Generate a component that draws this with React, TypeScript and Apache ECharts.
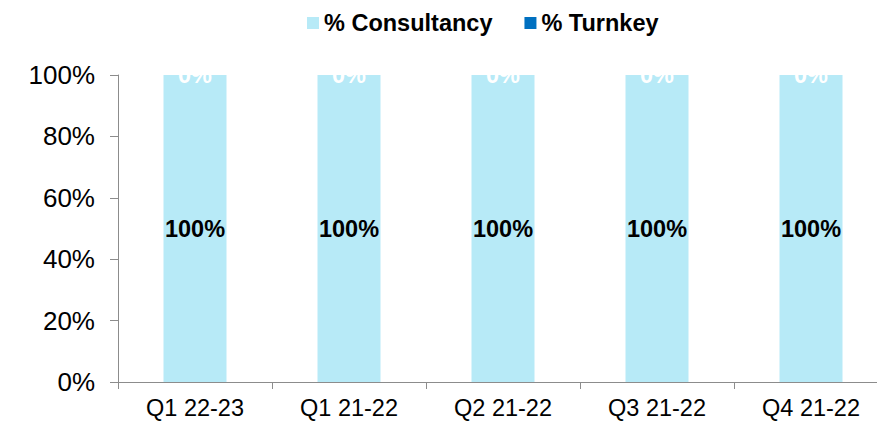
import React, { useEffect, useRef } from "react";
import * as echarts from "echarts";

const categories = ["Q1 22-23", "Q1 21-22", "Q2 21-22", "Q3 21-22", "Q4 21-22"];
const consultancy = [100, 100, 100, 100, 100];
const turnkey = [0, 0, 0, 0, 0];
const yTicks = [0, 20, 40, 60, 80, 100];

export default function App() {
  const ref = useRef<HTMLDivElement>(null);
  useEffect(() => {
    document.body.style.margin = "0";
    const chart = echarts.init(ref.current!, null, { renderer: "svg" });
    const font = "Arial, 'Liberation Sans', sans-serif";
    chart.setOption({
      animation: false,
      textStyle: { fontFamily: font },
      legend: {
        top: 6,
        left: 302,
        icon: "rect",
        itemWidth: 12,
        itemHeight: 12,
        itemGap: 32,
        textStyle: { fontFamily: font, fontSize: 23.5, fontWeight: "bold", color: "#000" },
        data: ["% Consultancy", "% Turnkey"],
      },
      grid: {
        left: 118,
        top: 75,
        height: 307,
        width: 770,
        containLabel: false,
        outerBoundsMode: "none",
      },
      xAxis: {
        type: "category",
        data: categories,
        axisLine: { lineStyle: { color: "#8c8c8c", width: 1 } },
        axisTick: { show: true, length: 7, lineStyle: { color: "#8c8c8c" } },
        axisLabel: { fontFamily: font, fontSize: 23.5, color: "#000", margin: 14 },
      },
      yAxis: {
        type: "value",
        min: yTicks[0],
        max: yTicks[yTicks.length - 1],
        interval: 20,
        splitLine: { show: false },
        axisLine: { show: true, lineStyle: { color: "#8c8c8c", width: 1 } },
        axisTick: { show: true, length: 8, lineStyle: { color: "#8c8c8c" } },
        axisLabel: { fontFamily: font, fontSize: 26, color: "#000", margin: 23, formatter: "{value}%" },
      },
      series: [
        {
          name: "% Consultancy",
          type: "bar",
          stack: "total",
          data: consultancy,
          barWidth: 63,
          itemStyle: { color: "#B7EAF7" },
          label: {
            show: true,
            position: "inside",
            formatter: "{c}%",
            fontFamily: font,
            fontSize: 23.5,
            fontWeight: "bold",
            color: "#000",
          },
        },
        {
          name: "% Turnkey",
          type: "bar",
          stack: "total",
          data: turnkey,
          barWidth: 63,
          itemStyle: { color: "#0070C0" },
          label: {
            show: true,
            position: "inside",
            formatter: "{c}%",
            fontFamily: font,
            fontSize: 23.5,
            fontWeight: "bold",
            color: "#fff",
          },
        },
      ],
    });
    return () => chart.dispose();
  }, []);
  return <div ref={ref} style={{ width: 877, height: 421 }} />;
}
